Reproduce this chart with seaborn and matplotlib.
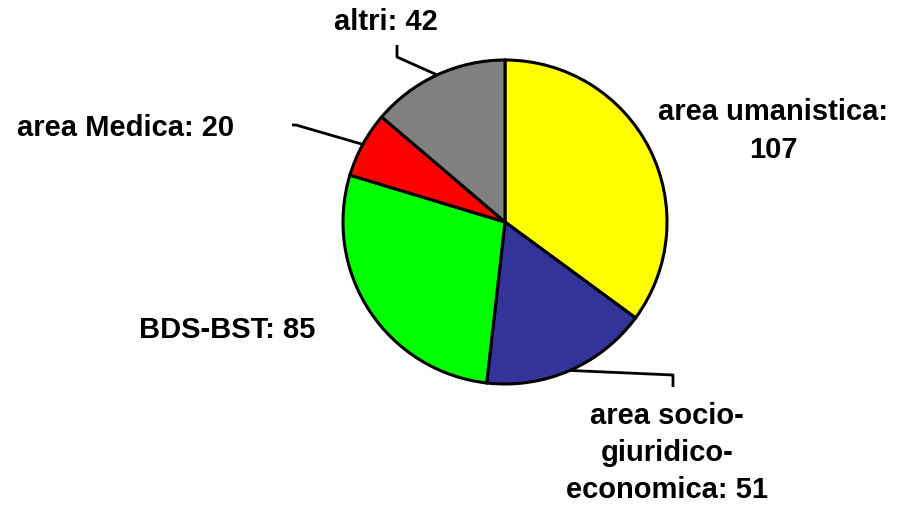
import numpy as np
import matplotlib
matplotlib.use("Agg")
import matplotlib.pyplot as plt
import seaborn as sns

# data
labels = ["area umanistica:\n107", "area socio-\ngiuridico-\neconomica: 51",
          "BDS-BST: 85", "area Medica: 20", "altri: 42"]
values = [107, 51, 85, 20, 42]
colors = ["#FFFF00", "#333399", "#00FF00", "#FF0000", "#808080"]

sns.set_theme(style="white")
plt.rcParams["font.family"] = ["Liberation Sans", "DejaVu Sans"]

W, H = 899, 505
fig = plt.figure(figsize=(W / 100, H / 100), dpi=100)
ax = fig.add_axes([0, 0, 1, 1])

cx, cy, r = 505, H - 222, 162
wedges, _ = ax.pie(values, colors=colors, startangle=90, counterclock=False,
                   center=(cx, cy), radius=r, frame=True,
                   wedgeprops=dict(edgecolor="black", linewidth=2.2))
ax.set_xlim(0, W)
ax.set_ylim(0, H)
ax.set_aspect("equal")
ax.axis("off")

# point on the rim at the middle of a wedge
def edge(i):
    w = wedges[i]
    a = np.deg2rad((w.theta1 + w.theta2) / 2)
    return cx + r * np.cos(a), cy + r * np.sin(a)

# leader lines (elbows in pixel coords, y from top)
elbows = {1: [(673, 375), (673, 387)],
          3: [(296, 125), (292, 125)],
          4: [(397, 57), (397, 45)]}
for i, pts in elbows.items():
    x0, y0 = edge(i)
    xs = [x0] + [p[0] for p in pts]
    ys = [y0] + [H - p[1] for p in pts]
    ax.plot(xs, ys, color="black", lw=2, solid_capstyle="butt", zorder=5)

txt = dict(fontsize=21, fontweight="bold", color="black", linespacing=1.42)
ax.text(773, H - 131, labels[0], ha="center", va="center", **txt)
ax.text(667, H - 453, labels[1], ha="center", va="center", **txt)
ax.text(227, H - 330, labels[2], ha="center", va="center", **txt)
ax.text(17, H - 128, labels[3], ha="left", va="center", **txt)
ax.text(386, H - 22, labels[4], ha="center", va="center", **txt)

fig.savefig("out.png", dpi=100, facecolor="white")
